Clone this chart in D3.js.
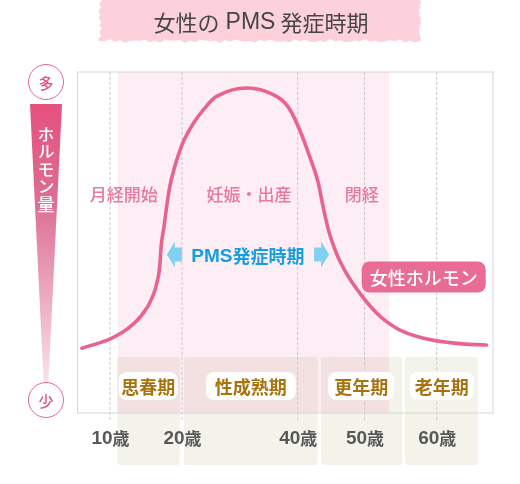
<!DOCTYPE html>
<html><head><meta charset="utf-8">
<script src="https://cdn.jsdelivr.net/npm/d3@7/dist/d3.min.js"></script>
<style>
body{margin:0;background:#fff}
svg{display:block}
text{font-family:"Noto Sans CJK JP","Noto Sans",sans-serif}
.lat{font-family:"Liberation Sans","Noto Sans CJK JP",sans-serif}
</style>
</head><body>
<svg id="chart" width="520" height="484"></svg>
<script>
// ---------- data ----------
const titleParts = ["女性の", "PMS", "発症時期"];
const axisLabel = "ホルモン量";
const levelHigh = "多";
const levelLow = "少";
const tickAges = [10, 20, 40, 50, 60];
const tickLabels = ["10", "20", "40", "50", "60"];
const tickUnit = "歳";
const curveAges = [6.1, 8.3, 10.2, 12.5, 14.4, 15.7, 16.5, 16.9, 17.1, 17.5, 17.8, 18.3, 19.0, 19.9, 21.6, 23.9, 25.9, 31.2, 36.4, 38.7, 40.3, 41.8, 43.1, 43.8, 44.6, 45.8, 47.3, 49.3, 51.7, 54.5, 58.2, 62.8, 66.9];
const curveLevels = [16.3, 17.8, 19.4, 22.5, 26.7, 31.4, 36.7, 41.9, 48.2, 54.5, 59.7, 67.1, 73.4, 79.7, 85.9, 91.7, 95.4, 98.1, 95.4, 91.2, 84.9, 76.5, 68.1, 60.8, 53.5, 46.1, 39.8, 33.6, 27.3, 22.5, 19.4, 17.8, 17.3];
const stageNames = ["思春期", "性成熟期", "更年期", "老年期"];
const stageStart = [11.0, 20.35, 43.5, 55.6];
const stageEnd = [19.7, 43.0, 55.2, 65.7];
const stageLabelAge = [15.3, 31.9, 49.5, 60.7];
const fertileSpan = [11.07, 53.4];
const eventNames = ["月経開始", "妊娠・出産", "閉経"];
const eventAges = [11.9, 31.6, 49.6];
const pmsParts = ["PMS", "発症時期"];
const pmsSpan = [17.9, 44.7];
const pmsLabelAge = 31.4;
const seriesName = "女性ホルモン";
const seriesLabelAge = 58.2;

// ---------- layout ----------
const svg = d3.select("#chart");
const frame = {l: 77.5, t: 72, r: 493, b: 413};
const x = d3.scaleLinear().domain(tickAges).range([110, 182, 297.7, 364.5, 436.7]);
const y = d3.scaleLinear().domain([0, 100]).range([400, 82]);
const pink = "#e9638f";

// title brush background (deterministic ragged edges)
(function(){
  const x0 = 100, x1 = 420, y0 = 0, y1 = 41;
  const pts = [];
  for (let i = 0; i <= 64; i++) { const t = i/64; pts.push([x0 + (x1-x0)*t, y1 + 1.3*Math.sin(i*2.7) + 0.8*Math.sin(i*5.3)]); }
  for (let j = 0; j <= 16; j++) { const t = j/16; pts.push([x1 + 1.5*Math.sin(j*3.1) + 0.8*Math.cos(j*7.1), y1 - (y1-y0)*t]); }
  pts.push([x0, y0]);
  for (let j = 0; j <= 16; j++) { const t = j/16; pts.push([x0 + 1.5*Math.sin(j*2.3+1) + 0.8*Math.cos(j*5.7), y0 + (y1-y0)*t]); }
  svg.append("path").attr("d", d3.line()(pts) + "Z").attr("fill", "#fcd1dc");
})();
const tt = svg.append("text").attr("x", 261).attr("y", 21).attr("text-anchor", "middle")
  .attr("dominant-baseline", "central").attr("font-size", 22).attr("fill", "#454545");
tt.append("tspan").text(titleParts[0]);
tt.append("tspan").attr("class", "lat").attr("dx", 6).attr("font-size", 23).text(titleParts[1]);
tt.append("tspan").attr("dx", 5).text(titleParts[2]);

// defs
const defs = svg.append("defs");
const grad = defs.append("linearGradient").attr("id", "lvl").attr("x1", 0).attr("y1", 0).attr("x2", 0).attr("y2", 1);
grad.append("stop").attr("offset", "0%").attr("stop-color", "#e6517f");
grad.append("stop").attr("offset", "35%").attr("stop-color", "#dc6f92");
grad.append("stop").attr("offset", "100%").attr("stop-color", "#fbe7ef");

// fertile band
svg.append("rect").attr("x", x(fertileSpan[0])).attr("y", frame.t)
  .attr("width", x(fertileSpan[1]) - x(fertileSpan[0])).attr("height", frame.b - frame.t)
  .attr("fill", "#fdedf4");

// stage boxes
svg.append("g").selectAll("rect").data(stageNames).join("rect")
  .attr("x", (d, i) => x(stageStart[i])).attr("y", 357)
  .attr("width", (d, i) => x(stageEnd[i]) - x(stageStart[i])).attr("height", 108)
  .attr("rx", 3).attr("fill", "#f4f3ea").style("mix-blend-mode", "multiply");

// grid lines
svg.append("g").selectAll("line").data(tickAges).join("line")
  .attr("x1", d => x(d)).attr("x2", d => x(d)).attr("y1", frame.t).attr("y2", 421)
  .attr("stroke", "#c9c9c9").attr("stroke-width", 1).attr("stroke-dasharray", "3,2");

// frame
svg.append("rect").attr("x", frame.l).attr("y", frame.t)
  .attr("width", frame.r - frame.l).attr("height", frame.b - frame.t)
  .attr("fill", "none").attr("stroke", "#d6d6d6").attr("stroke-width", 1);

// age tick labels via axis
const axis = svg.append("g").attr("transform", "translate(0,437)")
  .call(d3.axisBottom(x).tickValues(tickAges).tickFormat((d, i) => tickLabels[i]).tickSize(0).tickPadding(0));
axis.select(".domain").remove();
axis.selectAll("text").each(function(d, i) {
  const t = d3.select(this);
  t.text(null).attr("dy", null).attr("y", 0).attr("dominant-baseline", "central")
    .attr("fill", "#585858").attr("font-family", null);
  t.append("tspan").attr("class", "lat").attr("font-size", 19).attr("font-weight", 700).text(tickLabels[i]);
  t.append("tspan").attr("font-size", 17).attr("font-weight", 700).text(tickUnit);
});

// stage label pills
const stageW = [59, 90, 66, 64];
const pills = svg.append("g").selectAll("g").data(stageNames).join("g")
  .attr("transform", (d, i) => `translate(${x(stageLabelAge[i])},386)`);
pills.append("rect").attr("x", (d, i) => -stageW[i]/2).attr("y", -14)
  .attr("width", (d, i) => stageW[i]).attr("height", 28).attr("rx", 8).attr("fill", "#fff");
pills.append("text").attr("text-anchor", "middle").attr("dominant-baseline", "central")
  .attr("font-size", 18).attr("font-weight", 700).attr("fill", "#a8720c").text(d => d);

// event labels
svg.append("g").selectAll("text").data(eventNames).join("text")
  .attr("x", (d, i) => x(eventAges[i])).attr("y", 193)
  .attr("text-anchor", "middle").attr("dominant-baseline", "central")
  .attr("font-size", 17).attr("font-weight", 500).attr("fill", "#e8789c").text(d => d);

// PMS arrows + label
const arrowBlue = "#80d1f0";
function arrow(tipAge, dir) {
  const tx = x(tipAge), cy = 254.5;
  const pts = [[tx, cy], [tx + dir*8, cy - 13], [tx + dir*8, cy - 7], [tx + dir*15, cy - 7],
               [tx + dir*15, cy + 7], [tx + dir*8, cy + 7], [tx + dir*8, cy + 13]];
  svg.append("path").attr("d", d3.line()(pts) + "Z").attr("fill", arrowBlue);
}
arrow(pmsSpan[0], 1);
arrow(pmsSpan[1], -1);
const pt = svg.append("text").attr("x", x(pmsLabelAge)).attr("y", 254.5)
  .attr("text-anchor", "middle").attr("dominant-baseline", "central")
  .attr("font-size", 18).attr("font-weight", 700).attr("fill", "#169fdf");
pt.append("tspan").attr("class", "lat").attr("font-size", 19).text(pmsParts[0]);
pt.append("tspan").text(pmsParts[1]);

// hormone curve
const line = d3.line().x((d, i) => x(curveAges[i])).y((d, i) => y(curveLevels[i]))
  .curve(d3.curveMonotoneX);
svg.append("path").attr("d", line(curveAges)).attr("fill", "none")
  .attr("stroke", pink).attr("stroke-width", 3.6).attr("stroke-linecap", "round");

// series label
const sl = svg.append("g").attr("transform", `translate(${x(seriesLabelAge)},277)`);
sl.append("rect").attr("x", -62).attr("y", -15.5).attr("width", 124).attr("height", 31)
  .attr("rx", 8).attr("fill", "#e86c93");
sl.append("text").attr("text-anchor", "middle").attr("dominant-baseline", "central")
  .attr("font-size", 18).attr("font-weight", 500).attr("fill", "#fff").text(seriesName);

// left level indicator
svg.append("path").attr("d", d3.line()([[30, 104], [62, 104], [48, 390], [44, 390]]) + "Z")
  .attr("fill", "url(#lvl)");
[[levelHigh, 82], [levelLow, 400]].forEach(([t, cy]) => {
  svg.append("circle").attr("cx", 46).attr("cy", cy).attr("r", 17.5)
    .attr("fill", "#fff").attr("stroke", "#e8658f").attr("stroke-width", 1);
  svg.append("text").attr("x", 46).attr("y", cy).attr("text-anchor", "middle")
    .attr("dominant-baseline", "central").attr("font-size", 15).attr("font-weight", 500)
    .attr("fill", "#e0557f").text(t);
});
svg.append("text").attr("x", 46).attr("y", 126)
  .style("writing-mode", "vertical-rl").attr("text-anchor", "start")
  .attr("font-size", 17).attr("font-weight", 500).attr("letter-spacing", 0.5).attr("fill", "#fff").text(axisLabel);
</script>
</body></html>
